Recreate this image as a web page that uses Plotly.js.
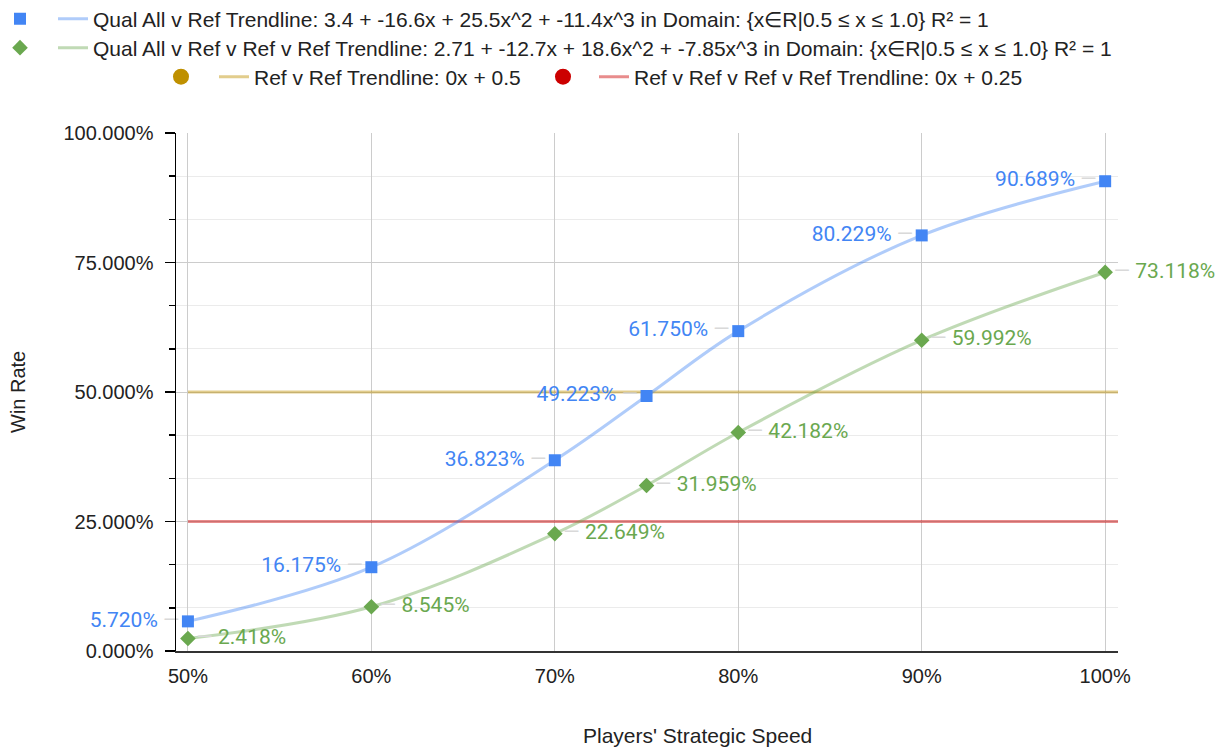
<!DOCTYPE html>
<html>
<head>
<meta charset="utf-8">
<script src="https://cdn.plot.ly/plotly-3.0.1.min.js"></script>
<style>
  html, body { margin: 0; padding: 0; background: #fff; }
  #chart { width: 1218px; height: 747px; }
</style>
</head>
<body>
<div id="chart"></div>
<script>
// ---- data ----
const speed = [0.5, 0.6, 0.7, 0.75, 0.8, 0.9, 1.0];
const qualAllVsRef = [0.05720, 0.16175, 0.36823, 0.49223, 0.61750, 0.80229, 0.90689];
const qualAllVsRef3 = [0.02418, 0.08545, 0.22649, 0.31959, 0.42182, 0.59992, 0.73118];
const refVsRefLevel = 0.5;
const ref4Level = 0.25;
const xRange = [0.4935, 1.007];
const yRange = [0, 1];
const xTicks = [0.5, 0.6, 0.7, 0.8, 0.9, 1.0];
const yTicks = [0, 0.25, 0.5, 0.75, 1.0];
const names = {
  blueTrend: 'Qual All v Ref Trendline: 3.4 + -16.6x + 25.5x^2 + -11.4x^3 in Domain: {x\u2208R|0.5 \u2264 x \u2264 1.0} R\u00b2 = 1',
  greenTrend: 'Qual All v Ref v Ref v Ref Trendline: 2.71 + -12.7x + 18.6x^2 + -7.85x^3 in Domain: {x\u2208R|0.5 \u2264 x \u2264 1.0} R\u00b2 = 1',
  goldTrend: 'Ref v Ref Trendline: 0x + 0.5',
  redTrend: 'Ref v Ref v Ref v Ref Trendline: 0x + 0.25'
};

// ---- styles ----
const BLUE = '#4285f4', GREEN = '#6aa84f', GOLD = '#bf9000', RED = '#cc0000';
const FONT = 'Liberation Sans, Arial, sans-serif';
const LEADER = '<span style="color:#d9d9d9">\u2014</span>';
const pct = v => (v * 100).toFixed(3) + '%';
const blueText = qualAllVsRef.map(v => pct(v) + ' ' + LEADER);
const greenText = qualAllVsRef3.map(v => LEADER + ' ' + pct(v));

const refX = [speed[0], xRange[1]];

const traces = [
  { x: refX, y: refX.map(() => refVsRefLevel), mode: 'lines', name: names.goldTrend,
    line: { color: 'rgba(191,144,0,0.45)', width: 3 }, legend: 'legend6', hoverinfo: 'skip' },
  { x: refX, y: refX.map(() => ref4Level), mode: 'lines', name: names.redTrend,
    line: { color: 'rgba(204,0,0,0.45)', width: 3 }, legend: 'legend8', hoverinfo: 'skip' },
  { x: speed, y: qualAllVsRef, mode: 'lines', name: names.blueTrend,
    line: { color: 'rgba(66,133,244,0.42)', width: 3, shape: 'spline', smoothing: 1 }, legend: 'legend2', hoverinfo: 'skip' },
  { x: speed, y: qualAllVsRef3, mode: 'lines', name: names.greenTrend,
    line: { color: 'rgba(106,168,79,0.42)', width: 3, shape: 'spline', smoothing: 1 }, legend: 'legend4', hoverinfo: 'skip' },
  { x: speed, y: qualAllVsRef, mode: 'markers+text', name: '',
    marker: { symbol: 'square', size: 12, color: BLUE },
    text: blueText, textposition: 'middle left', cliponaxis: false,
    textfont: { family: 'Roboto', size: 21, color: BLUE }, legend: 'legend' },
  { x: speed, y: qualAllVsRef3, mode: 'markers+text', name: '',
    marker: { symbol: 'diamond', size: 12, color: GREEN },
    text: greenText, textposition: 'middle right', cliponaxis: false,
    textfont: { family: 'Roboto', size: 21, color: GREEN }, legend: 'legend3' },
  { x: [null], y: [null], mode: 'markers', name: '',
    marker: { symbol: 'circle', size: 16, color: GOLD }, legend: 'legend5' },
  { x: [null], y: [null], mode: 'markers', name: '',
    marker: { symbol: 'circle', size: 16, color: RED }, legend: 'legend7' }
];

const H = 747, W = 1218;
const MT = 133, MB = 96, ML = 176, MR = 100, PH = H - MT - MB, PW = W - ML - MR;
const legendBase = {
  orientation: 'h', xref: 'container', yref: 'container', xanchor: 'left', yanchor: 'middle',
  font: { family: FONT, size: 21, color: '#222' },
  bgcolor: 'rgba(0,0,0,0)', borderwidth: 0
};
const leg = (px, py) => Object.assign({}, legendBase, { x: px / W, y: 1 - py / H });

const layout = {
  width: W, height: H,
  margin: { l: ML, r: MR, t: MT, b: MB, autoexpand: false },
  paper_bgcolor: '#fff', plot_bgcolor: '#fff',
  font: { family: FONT, size: 20, color: '#222' },
  showlegend: true,
  legend: leg(0, 19),
  legend2: leg(53, 19),
  legend3: leg(0, 48),
  legend4: leg(53, 48),
  legend5: leg(161, 77),
  legend6: leg(214, 77),
  legend7: leg(543, 77),
  legend8: leg(594, 77),
  xaxis: {
    range: xRange, tickvals: xTicks, tickformat: '.0%',
    showgrid: true, gridcolor: '#cccccc', gridwidth: 1,
    zeroline: false, showline: true, linecolor: '#333', linewidth: 1.5,
    ticks: '', ticklabelstandoff: 6,
    tickfont: { family: FONT, size: 20, color: '#222' }
  },
  yaxis: {
    range: yRange, tickvals: yTicks, tickformat: '.3%',
    showgrid: true, gridcolor: '#cccccc', gridwidth: 1,
    zeroline: false, showline: true, linecolor: '#000', linewidth: 1.5,
    ticks: 'outside', ticklen: 10, tickcolor: '#000', tickwidth: 1.5, ticklabelstandoff: 7,
    tickfont: { family: FONT, size: 20, color: '#222' },
    minor: { tick0: 0, dtick: 1 / 12, showgrid: true, gridcolor: '#ebebeb', gridwidth: 1,
             ticks: 'outside', ticklen: 6, tickcolor: '#000', tickwidth: 1.5 }
  },
  annotations: [
    { text: 'Win Rate', xref: 'paper', yref: 'paper', textangle: -90,
      x: (18 - ML) / PW, y: 0.5, xanchor: 'center', yanchor: 'middle', showarrow: false,
      font: { family: FONT, size: 20, color: '#222' } },
    { text: "Players' Strategic Speed", xref: 'paper', yref: 'paper',
      x: (697 - ML) / PW, y: (651 - 735) / PH, xanchor: 'center', yanchor: 'middle', showarrow: false,
      font: { family: FONT, size: 21, color: '#222' } }
  ]
};

Plotly.newPlot('chart', traces, layout, { displayModeBar: false, staticPlot: true });
</script>
</body>
</html>
